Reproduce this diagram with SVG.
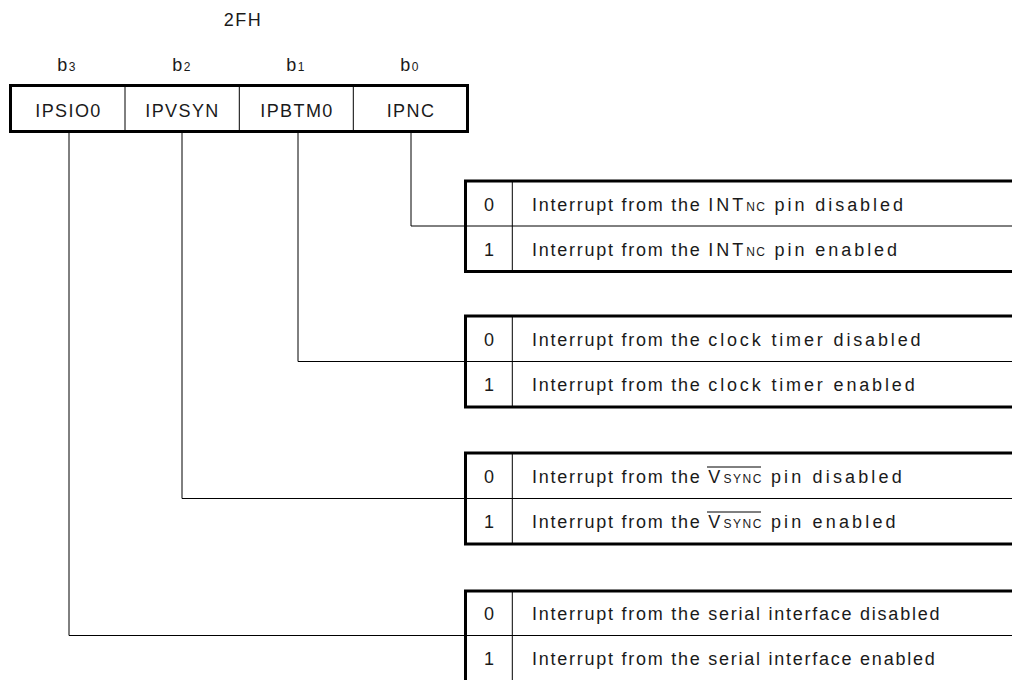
<svg xmlns="http://www.w3.org/2000/svg" width="1012" height="680" viewBox="0 0 1012 680">
<style>
text{font-family:"Liberation Sans",Arial,sans-serif;fill:#1a1a1a}
.t{font-size:18px;letter-spacing:1.75px}
.r{font-size:18px;letter-spacing:1.4px;text-anchor:middle}
.b{font-size:18px;letter-spacing:1.5px;text-anchor:middle}
.s{font-size:12px;letter-spacing:1.5px}
.bs{font-size:12px}
.n{font-size:18px;text-anchor:middle}
.thick{fill:none;stroke:#000;stroke-width:3}
.thin{fill:none;stroke:#000;stroke-width:1}
.conn{fill:none;stroke:#000;stroke-width:1}
</style>
<rect width="1012" height="680" fill="#fff"/>
<g id="title">
<text class="b" x="243" y="26">2FH</text>
</g>
<g id="bits">
<text class="b" x="67" y="71">b<tspan class="bs">3</tspan></text>
<text class="b" x="182" y="71">b<tspan class="bs">2</tspan></text>
<text class="b" x="296" y="71">b<tspan class="bs">1</tspan></text>
<text class="b" x="410" y="71">b<tspan class="bs">0</tspan></text>
</g>
<g id="register">
<line class="thin" x1="125" y1="86" x2="125" y2="131"/>
<line class="thin" x1="239.3" y1="86" x2="239.3" y2="131"/>
<line class="thin" x1="353.3" y1="86" x2="353.3" y2="131"/>
<rect class="thick" x="10.5" y="85.5" width="457" height="46"/>
<text class="r" x="68.5" y="117">IPSIO0</text>
<text class="r" x="182.5" y="117">IPVSYN</text>
<text class="r" x="297" y="117">IPBTM0</text>
<text class="r" x="411" y="117">IPNC</text>
</g>
<g id="connectors">
<polyline class="conn" points="411,133 411,226 465,226"/>
<polyline class="conn" points="298,133 298,361.5 465,361.5"/>
<polyline class="conn" points="182,133 182,498.5 465,498.5"/>
<polyline class="conn" points="69,133 69,635.5 465,635.5"/>
</g>
<g id="table-ipnc">
<rect class="thick" x="465.5" y="181" width="560" height="90.5"/>
<line class="thin" x1="465" y1="226" x2="1012" y2="226"/>
<line class="thin" x1="512.3" y1="181" x2="512.3" y2="271"/>
<text class="n" x="489" y="210.5">0</text>
<text class="t" x="532" y="210.5">Interrupt from the <tspan style="letter-spacing:2.95px">INT<tspan class="s">NC</tspan> pin disabled</tspan></text>
<text class="n" x="489" y="255.5">1</text>
<text class="t" x="532" y="255.5">Interrupt from the <tspan style="letter-spacing:2.95px">INT<tspan class="s">NC</tspan> pin enabled</tspan></text>
</g>
<g id="table-ipbtm0">
<rect class="thick" x="465.5" y="316" width="560" height="91"/>
<line class="thin" x1="465" y1="361.5" x2="1012" y2="361.5"/>
<line class="thin" x1="512.3" y1="316" x2="512.3" y2="407"/>
<text class="n" x="489" y="346">0</text>
<text class="t" x="532" y="346">Interrupt from the <tspan style="letter-spacing:2.85px">clock timer disabled</tspan></text>
<text class="n" x="489" y="391">1</text>
<text class="t" x="532" y="391">Interrupt from the <tspan style="letter-spacing:2.85px">clock timer enabled</tspan></text>
</g>
<g id="table-ipvsyn">
<rect class="thick" x="465.5" y="453" width="560" height="91"/>
<line class="thin" x1="465" y1="498.5" x2="1012" y2="498.5"/>
<line class="thin" x1="512.3" y1="453" x2="512.3" y2="544"/>
<text class="n" x="489" y="483">0</text>
<text class="t" x="532" y="483">Interrupt from the <tspan style="letter-spacing:3.15px">V<tspan class="s">SYNC</tspan> pin disabled</tspan></text>
<line class="thin" x1="707" y1="467" x2="761" y2="467"/>
<text class="n" x="489" y="528">1</text>
<text class="t" x="532" y="528">Interrupt from the <tspan style="letter-spacing:3.15px">V<tspan class="s">SYNC</tspan> pin enabled</tspan></text>
<line class="thin" x1="707" y1="512" x2="761" y2="512"/>
</g>
<g id="table-ipsio0">
<rect class="thick" x="465.5" y="591" width="560" height="91"/>
<line class="thin" x1="465" y1="635.5" x2="1012" y2="635.5"/>
<line class="thin" x1="512.3" y1="591" x2="512.3" y2="682"/>
<text class="n" x="489" y="620">0</text>
<text class="t" x="532" y="620">Interrupt from the serial interface disabled</text>
<text class="n" x="489" y="665">1</text>
<text class="t" x="532" y="665">Interrupt from the serial interface enabled</text>
</g>
</svg>
